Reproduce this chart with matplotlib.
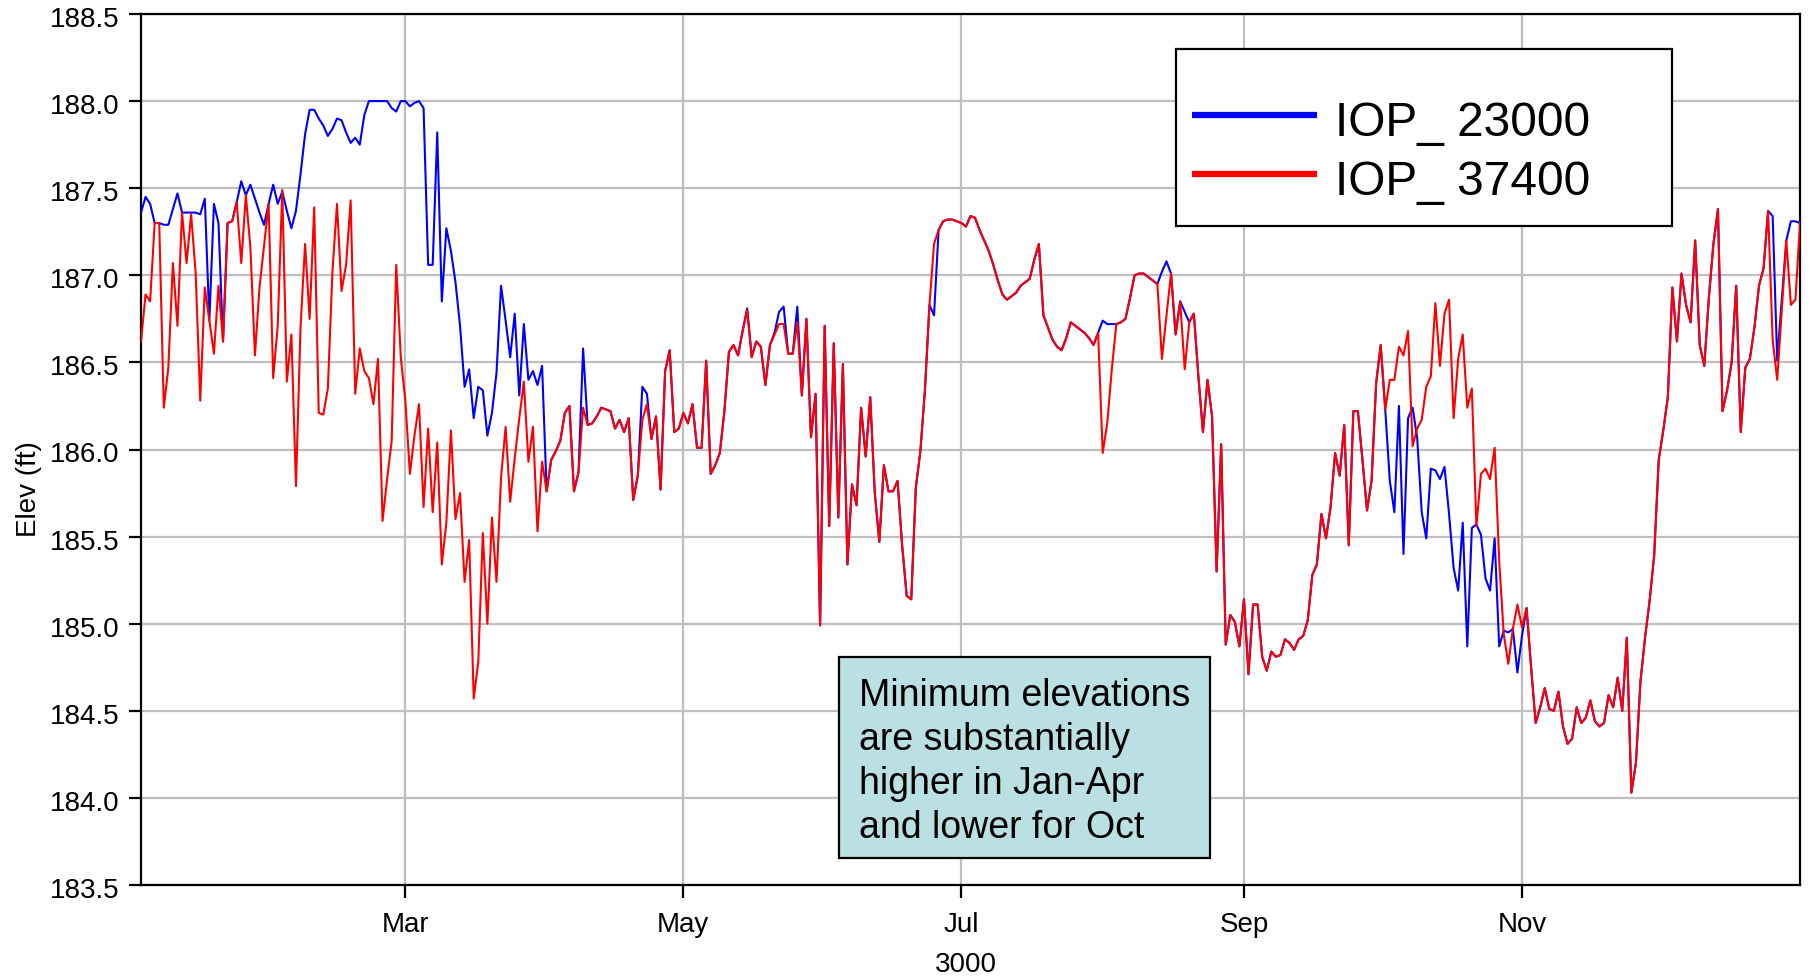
import numpy as np
import matplotlib
matplotlib.use("Agg")
import matplotlib.pyplot as plt
import matplotlib.dates as mdates
import matplotlib.transforms as mtransforms
from matplotlib.patches import Rectangle
from matplotlib.lines import Line2D
from matplotlib.ticker import FormatStrFormatter

plt.rcParams['font.family'] = ['Liberation Sans', 'DejaVu Sans']

# ---------------- data ----------------
start_date = '3000-01-02'
end_date = '3001-01-02'          # exclusive -> 365 daily values
series_labels = ['IOP_ 23000', 'IOP_ 37400']
series_colors = ['#0000FF', '#FF0000']
x_label = '3000'
y_label = 'Elev (ft)'
y_ticks = [183.5, 184.0, 184.5, 185.0, 185.5, 186.0, 186.5, 187.0, 187.5, 188.0, 188.5]
tick_months = [3, 5, 7, 9, 11]
note_text = "Minimum elevations\nare substantially\nhigher in Jan-Apr\nand lower for Oct"

iop_23000 = [
    187.36, 187.45, 187.41, 187.30, 187.30, 187.29, 187.29, 187.38, 187.47, 187.36,
    187.36, 187.36, 187.36, 187.35, 187.44, 186.74, 187.41, 187.30, 186.62, 187.30,
    187.31, 187.42, 187.54, 187.46, 187.52, 187.44, 187.36, 187.29, 187.41, 187.52,
    187.41, 187.48, 187.37, 187.27, 187.37, 187.58, 187.81, 187.95, 187.95, 187.90,
    187.86, 187.80, 187.84, 187.90, 187.89, 187.82, 187.76, 187.79, 187.75, 187.92,
    188.00, 188.00, 188.00, 188.00, 188.00, 187.96, 187.94, 188.00, 188.00, 187.97,
    187.99, 188.00, 187.96, 187.06, 187.06, 187.82, 186.85, 187.27, 187.14, 186.96,
    186.71, 186.36, 186.46, 186.18, 186.36, 186.34, 186.08, 186.21, 186.44, 186.94,
    186.74, 186.53, 186.78, 186.31, 186.72, 186.40, 186.45, 186.37, 186.48, 185.76,
    185.94, 185.99, 186.05, 186.21, 186.25, 185.76, 185.87, 186.58, 186.14, 186.15,
    186.19, 186.24, 186.23, 186.22, 186.12, 186.17, 186.10, 186.18, 185.71, 185.85,
    186.36, 186.32, 186.06, 186.19, 185.77, 186.45, 186.57, 186.10, 186.12, 186.21,
    186.15, 186.26, 186.01, 186.01, 186.51, 185.86, 185.91, 185.98, 186.22, 186.56,
    186.60, 186.54, 186.68, 186.81, 186.53, 186.62, 186.59, 186.37, 186.60, 186.67,
    186.79, 186.82, 186.55, 186.55, 186.82, 186.31, 186.75, 186.07, 186.32, 184.99,
    186.71, 185.56, 186.61, 185.61, 186.49, 185.34, 185.80, 185.68, 186.24, 185.96,
    186.30, 185.75, 185.47, 185.91, 185.76, 185.76, 185.82, 185.45, 185.16, 185.14,
    185.78, 185.99, 186.34, 186.83, 186.77, 187.26, 187.31, 187.32, 187.32, 187.31,
    187.30, 187.28, 187.34, 187.33, 187.26, 187.20, 187.14, 187.06, 186.97, 186.89,
    186.86, 186.88, 186.90, 186.94, 186.96, 186.98, 187.09, 187.18, 186.77, 186.70,
    186.63, 186.59, 186.57, 186.64, 186.73, 186.71, 186.69, 186.67, 186.64, 186.60,
    186.67, 186.74, 186.72, 186.72, 186.72, 186.73, 186.75, 186.87, 187.00, 187.01,
    187.01, 186.99, 186.97, 186.95, 187.02, 187.08, 187.01, 186.66, 186.85, 186.79,
    186.73, 186.78, 186.42, 186.10, 186.40, 186.19, 185.30, 186.03, 184.88, 185.05,
    185.01, 184.87, 185.14, 184.71, 185.11, 185.11, 184.81, 184.73, 184.84, 184.81,
    184.82, 184.91, 184.89, 184.85, 184.91, 184.93, 185.02, 185.28, 185.34, 185.63,
    185.49, 185.67, 185.98, 185.85, 186.14, 185.45, 186.22, 186.22, 185.94, 185.65,
    185.82, 186.38, 186.60, 186.23, 185.82, 185.64, 186.25, 185.40, 186.18, 186.24,
    186.07, 185.64, 185.49, 185.89, 185.88, 185.83, 185.90, 185.63, 185.32, 185.19,
    185.58, 184.87, 185.55, 185.57, 185.51, 185.26, 185.19, 185.49, 184.87, 184.96,
    184.95, 184.97, 184.72, 184.93, 185.09, 184.75, 184.43, 184.52, 184.63, 184.51,
    184.50, 184.61, 184.41, 184.31, 184.34, 184.52, 184.43, 184.46, 184.56, 184.44,
    184.41, 184.43, 184.59, 184.52, 184.69, 184.50, 184.92, 184.03, 184.20, 184.67,
    184.92, 185.13, 185.39, 185.94, 186.11, 186.30, 186.93, 186.62, 187.01, 186.83,
    186.73, 187.20, 186.60, 186.48, 186.87, 187.18, 187.38, 186.22, 186.34, 186.50,
    186.94, 186.10, 186.47, 186.52, 186.70, 186.94, 187.04, 187.37, 187.34, 186.51,
    186.86, 187.20, 187.31, 187.31, 187.30,
]

iop_37400 = [
    186.62, 186.89, 186.85, 187.30, 187.30, 186.24, 186.47, 187.07, 186.71, 187.36,
    187.07, 187.35, 187.01, 186.28, 186.93, 186.74, 186.55, 186.94, 186.62, 187.30,
    187.31, 187.42, 187.07, 187.46, 187.16, 186.54, 186.93, 187.17, 187.41, 186.41,
    186.71, 187.49, 186.39, 186.66, 185.79, 186.70, 187.18, 186.75, 187.39, 186.21,
    186.20, 186.35, 187.02, 187.41, 186.91, 187.06, 187.43, 186.32, 186.58, 186.45,
    186.41, 186.26, 186.52, 185.59, 185.83, 186.05, 187.06, 186.53, 186.28, 185.86,
    186.08, 186.26, 185.67, 186.12, 185.64, 186.04, 185.34, 185.58, 186.11, 185.60,
    185.75, 185.24, 185.48, 184.57, 184.78, 185.52, 185.00, 185.61, 185.24, 185.84,
    186.13, 185.70, 185.95, 186.18, 186.39, 185.93, 186.13, 185.53, 185.93, 185.76,
    185.94, 185.99, 186.05, 186.21, 186.25, 185.76, 185.87, 186.24, 186.14, 186.15,
    186.19, 186.24, 186.23, 186.22, 186.12, 186.17, 186.10, 186.18, 185.71, 185.85,
    186.17, 186.26, 186.06, 186.19, 185.77, 186.45, 186.57, 186.10, 186.12, 186.21,
    186.15, 186.26, 186.01, 186.01, 186.51, 185.86, 185.91, 185.98, 186.22, 186.56,
    186.60, 186.54, 186.68, 186.80, 186.53, 186.62, 186.59, 186.37, 186.60, 186.66,
    186.72, 186.72, 186.55, 186.55, 186.73, 186.31, 186.75, 186.07, 186.32, 184.99,
    186.71, 185.56, 186.61, 185.61, 186.49, 185.34, 185.80, 185.68, 186.24, 185.96,
    186.30, 185.75, 185.47, 185.91, 185.76, 185.76, 185.82, 185.45, 185.16, 185.14,
    185.78, 185.99, 186.34, 186.83, 187.18, 187.26, 187.31, 187.32, 187.32, 187.31,
    187.30, 187.28, 187.34, 187.33, 187.26, 187.20, 187.14, 187.06, 186.97, 186.89,
    186.86, 186.88, 186.90, 186.94, 186.96, 186.98, 187.09, 187.18, 186.77, 186.70,
    186.63, 186.59, 186.57, 186.64, 186.73, 186.71, 186.69, 186.67, 186.64, 186.60,
    186.67, 185.98, 186.15, 186.46, 186.72, 186.73, 186.75, 186.87, 187.00, 187.01,
    187.01, 186.99, 186.97, 186.95, 186.52, 186.77, 187.01, 186.66, 186.85, 186.46,
    186.73, 186.78, 186.42, 186.10, 186.40, 186.19, 185.30, 186.03, 184.88, 185.05,
    185.01, 184.87, 185.14, 184.71, 185.11, 185.11, 184.81, 184.73, 184.84, 184.81,
    184.82, 184.91, 184.89, 184.85, 184.91, 184.93, 185.02, 185.28, 185.34, 185.63,
    185.49, 185.67, 185.98, 185.85, 186.14, 185.45, 186.22, 186.22, 185.94, 185.65,
    185.82, 186.38, 186.60, 186.23, 186.40, 186.40, 186.59, 186.54, 186.68, 186.02,
    186.12, 186.17, 186.36, 186.42, 186.84, 186.48, 186.78, 186.86, 186.18, 186.52,
    186.66, 186.24, 186.35, 185.56, 185.86, 185.89, 185.83, 186.01, 185.36, 184.94,
    184.77, 184.97, 185.11, 184.98, 185.09, 184.75, 184.43, 184.52, 184.63, 184.51,
    184.50, 184.61, 184.41, 184.31, 184.34, 184.52, 184.43, 184.46, 184.56, 184.44,
    184.41, 184.43, 184.59, 184.52, 184.69, 184.50, 184.92, 184.03, 184.20, 184.67,
    184.92, 185.13, 185.39, 185.94, 186.11, 186.30, 186.93, 186.62, 187.01, 186.83,
    186.73, 187.20, 186.60, 186.48, 186.87, 187.18, 187.38, 186.22, 186.34, 186.50,
    186.94, 186.10, 186.47, 186.52, 186.70, 186.94, 187.04, 187.37, 186.63, 186.40,
    186.80, 187.20, 186.83, 186.86, 187.30,
]

# ---------------- figure ----------------
W, H = 1809, 977
fig = plt.figure(figsize=(W / 100, H / 100), dpi=100)
ax_l, ax_r, ax_t, ax_b = 141, 1800, 14, 885
ax = fig.add_axes([ax_l / W, 1 - ax_b / H, (ax_r - ax_l) / W, (ax_b - ax_t) / H])

def fx(px):
    return (px - ax_l) / (ax_r - ax_l)

def fy(py):
    return (ax_b - py) / (ax_b - ax_t)

dates = np.arange(np.datetime64(start_date), np.datetime64(end_date), dtype='datetime64[D]')

ax.plot(dates, iop_23000, color=series_colors[0], lw=1.5, zorder=3)
ax.plot(dates, iop_37400, color=series_colors[1], lw=1.5, zorder=4)

ax.set_xlim(dates[0], dates[-1])
ax.set_ylim(y_ticks[0], y_ticks[-1])
ax.set_yticks(y_ticks)
ax.yaxis.set_major_formatter(FormatStrFormatter('%.1f'))
ax.xaxis.set_major_locator(mdates.MonthLocator(bymonth=tick_months))
ax.xaxis.set_major_formatter(mdates.DateFormatter('%b'))

ax.grid(True, color='#bfbfbf', lw=1.6)
ax.set_axisbelow(True)
for s in ax.spines.values():
    s.set_linewidth(1.6)
    s.set_color('black')
ax.tick_params(axis='both', labelsize=20, width=1.6, direction='out', colors='black')
ax.tick_params(axis='x', length=9.5, pad=10)
ax.tick_params(axis='y', length=8.5, pad=7)
ax.set_xlabel(x_label, fontsize=20, labelpad=10, x=fx(965.7))
ax.set_ylabel(y_label, fontsize=20, labelpad=5.5, y=fy(489))

# y tick labels sit slightly below their ticks in the reference
shift = mtransforms.ScaledTranslation(0, -3 / 100, fig.dpi_scale_trans)
for lab in ax.get_yticklabels():
    lab.set_transform(lab.get_transform() + shift)

# legend box + entries
ax.add_patch(Rectangle((fx(1175.5), fy(225.7)), fx(1672.4) - fx(1175.5), fy(49.3) - fy(225.7),
                       transform=ax.transAxes, facecolor='white', edgecolor='black',
                       lw=1.6, zorder=6))
handles = [Line2D([], [], color=c, lw=4.5, solid_capstyle='butt') for c in series_colors]
leg = ax.legend(handles, series_labels, loc='upper left',
                bbox_to_anchor=(fx(1191.8), fy(93.6)), bbox_transform=ax.transAxes,
                frameon=False, borderpad=0, borderaxespad=0, fontsize=34.5,
                handlelength=2.62, handleheight=1.333, handletextpad=0.37,
                labelspacing=0.12)
leg.set_zorder(7)

# annotation box
ax.add_patch(Rectangle((fx(839), fy(858.3)), fx(1210) - fx(839), fy(657.3) - fy(858.3),
                       transform=ax.transAxes, facecolor='#BBE0E3', edgecolor='black',
                       lw=1.6, zorder=6))
ax.text(fx(859), fy(838.3), note_text, transform=ax.transAxes, fontsize=27,
        ha='left', va='baseline', linespacing=1.29, zorder=7, color='black')

fig.savefig('out.png', dpi=100)
